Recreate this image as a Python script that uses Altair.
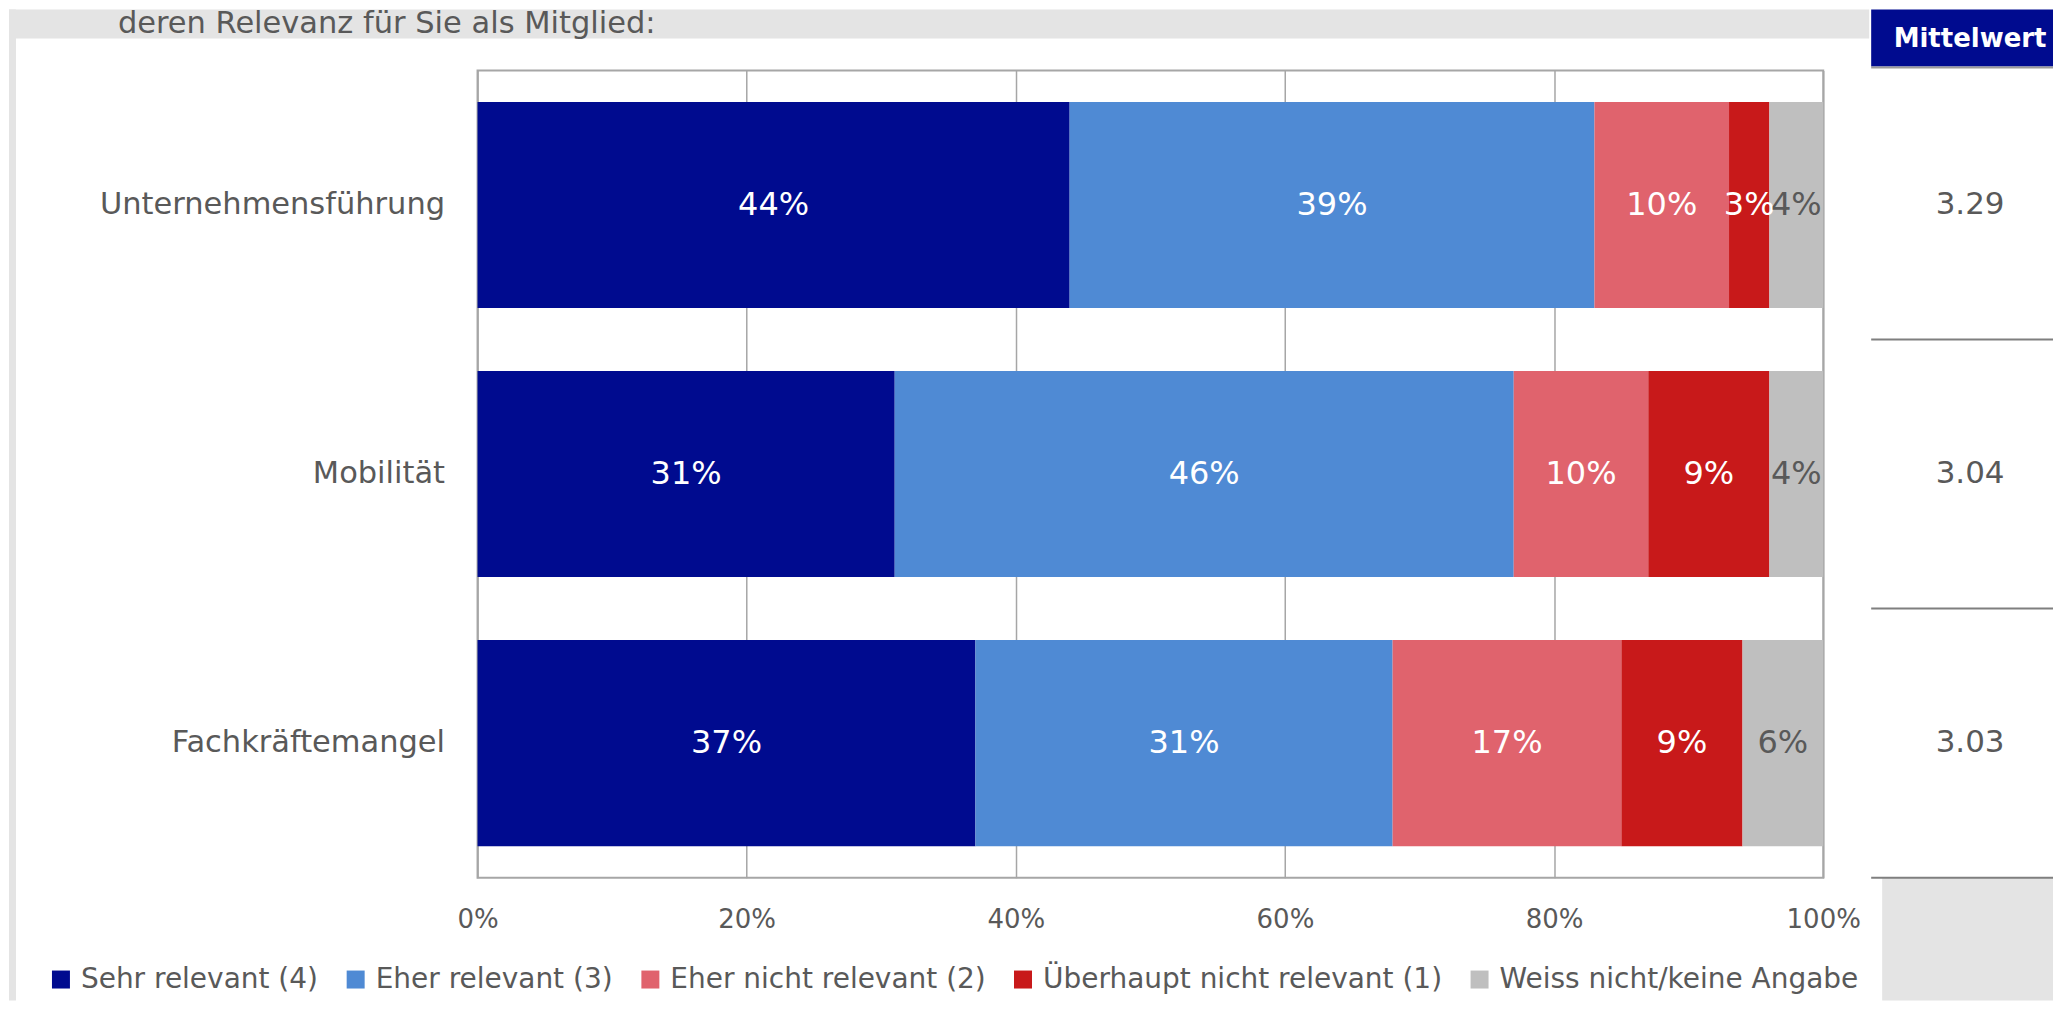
import altair as alt
import pandas as pd

# ---------------- data ----------------
categories = ["Unternehmensführung", "Mobilität", "Fachkräftemangel"]
series = [
    "Sehr relevant (4)",
    "Eher relevant (3)",
    "Eher nicht relevant (2)",
    "Überhaupt nicht relevant (1)",
    "Weiss nicht/keine Angabe",
]
colors = ["#000b8f", "#4f8ad4", "#e0636d", "#c8191a", "#bfbfbf"]
sehr = [44, 31, 37]
eher = [39, 46, 31]
eher_nicht = [10, 10, 17]
ueberhaupt = [3, 9, 9]
weiss = [4, 4, 6]
mittelwert = [3.29, 3.04, 3.03]
x_ticks = [0, 20, 40, 60, 80, 100]
title_text = "deren Relevanz für Sie als Mitglied:"
header_text = "Mittelwert"

rows = []
for i, c in enumerate(categories):
    for j, (s, vals) in enumerate(zip(series, [sehr, eher, eher_nicht, ueberhaupt, weiss])):
        rows.append({"cat": c, "series": s, "value": vals[i], "order": j})
df = pd.DataFrame(rows)
mw_df = pd.DataFrame({"cat": categories, "mw": mittelwert})
one = pd.DataFrame({"k": [0]})

FONT = "DejaVu Sans"
TXT = "#595959"
GRID = "#a6a6a6"
BG = "#e4e4e4"

W, H = 1347, 808
W2 = 182
TOP = -61

# ---------------- left: stacked bars ----------------
y_left = alt.Y(
    "cat:N", sort=categories, title=None,
    scale=alt.Scale(paddingInner=0.234, paddingOuter=0.117),
    axis=alt.Axis(domain=False, ticks=False, labelFontSize=30.5, labelColor=TXT,
                  labelFont=FONT, labelPadding=33, minExtent=469, maxExtent=469,
                  labelLimit=460),
)

base = alt.Chart(df).transform_stack(
    stack="value", groupby=["cat"], as_=["x0", "x1"],
    sort=[alt.SortField("order", order="ascending")],
).transform_calculate(
    mid="(datum.x0 + datum.x1) / 2", lbl="datum.value + '%'"
)

bars = base.mark_bar().encode(
    x=alt.X("x0:Q", title=None, scale=alt.Scale(domain=[0, 100], nice=False),
            axis=alt.Axis(values=x_ticks, labelExpr="datum.value + '%'", grid=True,
                          gridColor=GRID, gridWidth=1.5, domain=False, ticks=False,
                          labelFontSize=26, labelColor=TXT, labelFont=FONT,
                          labelPadding=29, labelFlush=False, labelOverlap=False)),
    x2="x1:Q",
    y=y_left,
    color=alt.Color(
        "series:N", scale=alt.Scale(domain=series, range=colors),
        legend=alt.Legend(orient="none", legendX=-431, legendY=896, direction="horizontal",
                          title=None, symbolType="square", symbolSize=324,
                          symbolStrokeWidth=0, symbolOpacity=1, labelFontSize=28,
                          labelFont=FONT, labelColor=TXT, labelLimit=1000, labelOffset=6,
                          columnPadding=23, padding=0),
    ),
)

labels = base.mark_text(fontSize=32, font=FONT, baseline="middle", align="center").encode(
    x=alt.X("mid:Q"),
    y=alt.Y("cat:N", sort=categories),
    text="lbl:N",
    color=alt.condition(alt.datum.series == series[4], alt.value(TXT), alt.value("white")),
)

top_strip = alt.Chart(one).mark_rect(color=BG).encode(
    x=alt.value(-469), x2=alt.value(1393), y=alt.value(TOP), y2=alt.value(-32))
left_strip = alt.Chart(one).mark_rect(color=BG).encode(
    x=alt.value(-469), x2=alt.value(-462), y=alt.value(TOP), y2=alt.value(931))
title_mark = alt.Chart(one).mark_text(
    text=title_text, align="left", baseline="alphabetic", fontSize=30.5, font=FONT, color=TXT
).encode(x=alt.value(-360), y=alt.value(-37))

left = alt.layer(top_strip, left_strip, title_mark, bars, labels).properties(
    width=W, height=H, view=alt.ViewBackground(stroke=GRID, strokeWidth=2))

# ---------------- right: Mittelwert column ----------------
y_right_scale = alt.Scale(paddingInner=0, paddingOuter=0)

header_rect = alt.Chart(one).mark_rect(color="#000b8f").encode(
    x=alt.value(0), x2=alt.value(W2), y=alt.value(TOP), y2=alt.value(-4))
header_shadow = alt.Chart(one).mark_rect(color="#9a9a9a").encode(
    x=alt.value(0), x2=alt.value(W2), y=alt.value(-4), y2=alt.value(-2))
header_mark = alt.Chart(one).mark_text(
    text=header_text, align="center", baseline="alphabetic", fontSize=26,
    fontWeight="bold", font=FONT, color="white"
).encode(x=alt.value(99), y=alt.value(-23))
gray_block = alt.Chart(one).mark_rect(color=BG).encode(
    x=alt.value(11), x2=alt.value(W2), y=alt.value(H), y2=alt.value(931))
seps = alt.Chart(mw_df).mark_rule(color="#7f7f7f", strokeWidth=2).encode(
    y=alt.Y("cat:N", sort=categories, bandPosition=1, axis=None, scale=y_right_scale))
vals = alt.Chart(mw_df).mark_text(fontSize=31, font=FONT, color=TXT, baseline="middle",
                                  align="center").encode(
    x=alt.value(99),
    y=alt.Y("cat:N", sort=categories, axis=None, scale=y_right_scale),
    text=alt.Text("mw:Q", format=".2f"),
)

right = alt.layer(header_rect, header_shadow, header_mark, gray_block, seps, vals).properties(
    width=W2, height=H, view=alt.ViewBackground(strokeWidth=0))

chart = alt.hconcat(left, right, spacing=0).resolve_scale(
    y="independent", color="independent"
).properties(
    padding=0,
    background="white",
).configure_view(strokeWidth=0)

chart.save("out.html", embed_options={"renderer": "svg", "actions": False})
